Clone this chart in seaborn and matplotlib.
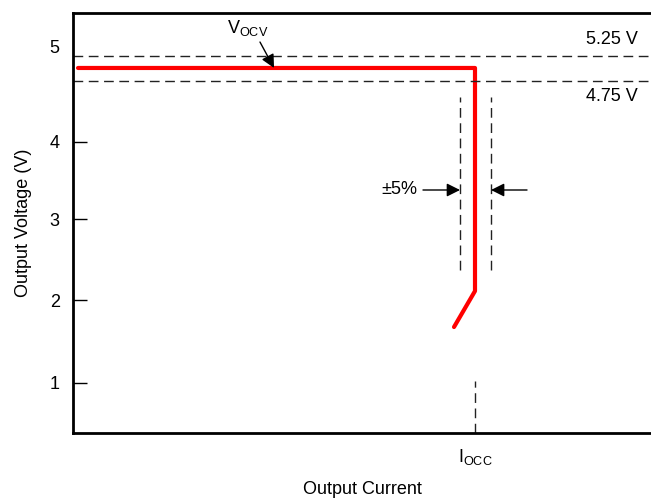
"""
Output voltage vs output current characteristic (schematic).
"""

import matplotlib
matplotlib.use("Agg")
import matplotlib.pyplot as plt
import seaborn as sns
import pandas as pd

# Curve (schematic units: x 0..100 across the plot, y in scaled volts)
curve_x = [0.87, 69.55, 69.55, 65.92]
curve_y = [4.867, 4.867, 1.893, 1.413]

# Limit lines
limit_levels = [5.027, 4.693]
limit_labels = ["5.25 V", "4.75 V"]
limit_label_y = [5.24, 4.48]

# Y axis ticks (non uniform in the original drawing)
ytick_pos = [0.667, 1.773, 2.853, 3.88, 5.147]
ytick_labels = ["1", "2", "3", "4", "5"]

# Current limit and ±5% band
iocc_x = 69.55
band_x = [66.96, 72.32]
band_y = [2.18, 4.48]

sns.set_style("white")
plt.rcParams["font.family"] = ["Liberation Sans", "DejaVu Sans"]
plt.rcParams["mathtext.fontset"] = "custom"
plt.rcParams["mathtext.rm"] = "Liberation Sans"
plt.rcParams["mathtext.it"] = "Liberation Sans"
plt.rcParams["text.color"] = "black"
plt.rcParams["axes.labelcolor"] = "black"
plt.rcParams["xtick.color"] = "black"
plt.rcParams["ytick.color"] = "black"

FS = 13

fig = plt.figure(figsize=(6.51, 4.99), dpi=100)
ax = fig.add_axes([73 / 651, 66 / 499, 1 - 73 / 651, 420 / 499])

df = pd.DataFrame({"x": curve_x, "y": curve_y})
sns.lineplot(data=df, x="x", y="y", sort=False, estimator=None,
             color="#ff0000", lw=3, ax=ax)

dash = (0, (7, 4))
for lvl in limit_levels:
    ax.axhline(lvl, color="#222222", lw=1, ls=dash)
for lab, ly in zip(limit_labels, limit_label_y):
    ax.text(93.25, ly, lab, ha="center", va="center", fontsize=FS)

for bx in band_x:
    ax.plot([bx, bx], band_y, color="#222222", lw=1, ls=dash)
ax.plot([iocc_x, iocc_x], [0, 0.69], color="#222222", lw=1, ls=dash)

arrow = dict(arrowstyle="-|>", color="black", lw=1, mutation_scale=20,
             shrinkA=0, shrinkB=0)
ax.annotate("", xy=(band_x[0], 3.24), xytext=(60.55, 3.24), arrowprops=arrow)
ax.annotate("", xy=(band_x[1], 3.24), xytext=(78.55, 3.24), arrowprops=arrow)
ax.text(59.5, 3.24, "±5%", ha="right", va="center", fontsize=FS)

ax.text(26.6, 5.333, r"V$_{\mathregular{OCV}}$", ha="left", va="baseline", fontsize=FS)
ax.annotate("", xy=(34.78, 4.867), xytext=(32.35, 5.213), arrowprops=arrow)

ax.set_xlim(0, 100)
ax.set_ylim(0, 5.6)
ax.set_yticks(ytick_pos)
ax.set_yticklabels(ytick_labels, fontsize=FS)
ax.set_xticks([iocc_x])
ax.set_xticklabels([r"I$_{\mathregular{OCC}}$"], fontsize=FS)
ax.tick_params(axis="y", direction="in", length=10, width=1, left=True, pad=9.5)
ax.tick_params(axis="x", length=0, pad=10)
ax.yaxis.get_major_ticks()[-1].tick1line.set_visible(False)

ax.set_xlabel("Output Current", fontsize=FS, labelpad=10)
ax.set_ylabel("Output Voltage (V)", fontsize=FS, labelpad=13)

for side in ["left", "top", "bottom"]:
    ax.spines[side].set_color("black")
    ax.spines[side].set_linewidth(2)
ax.spines["right"].set_visible(False)

fig.savefig("out.png", dpi=100)
